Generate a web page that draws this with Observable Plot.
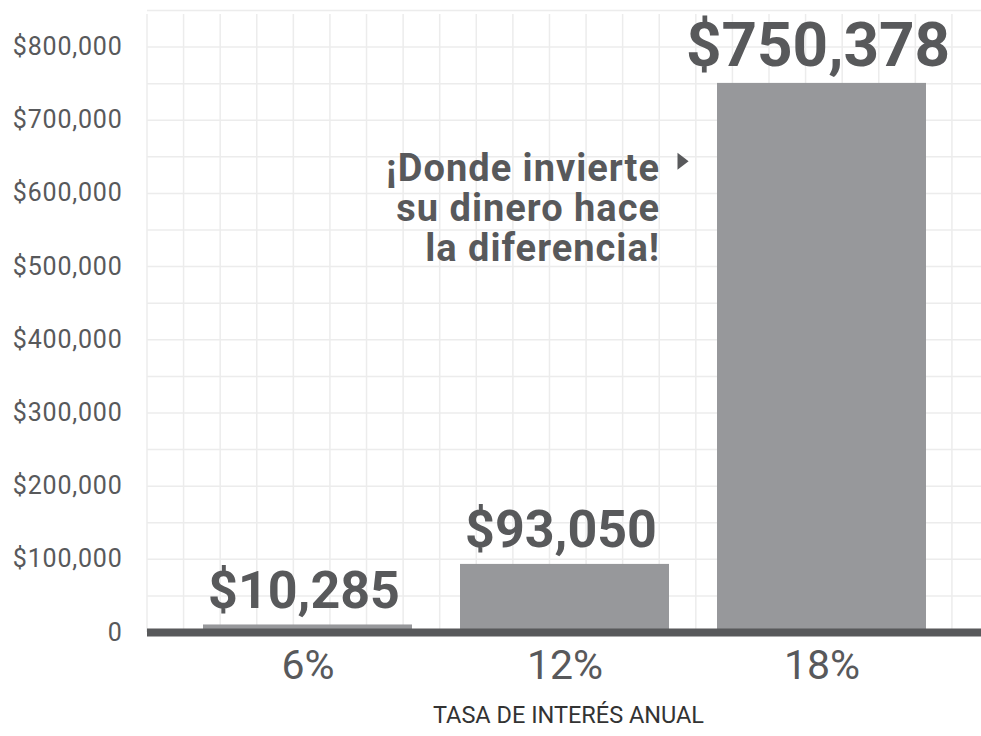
<!DOCTYPE html>
<html>
<head>
<meta charset="utf-8">
<script src="https://cdn.jsdelivr.net/npm/d3@7"></script>
<script src="https://cdn.jsdelivr.net/npm/@observablehq/plot@0.6"></script>
<style>
  html, body { margin: 0; padding: 0; background: #ffffff; }
  #chart svg { display: block; }
  #chart g[aria-description="annotation"] text { letter-spacing: 1px; }
  #chart g[aria-label="y-axis tick label"] text { letter-spacing: 0.8px; }
</style>
</head>
<body>
<div id="chart"></div>
<script>
// ---- data ----
const categories = ["6%", "12%", "18%"];
const values = [10285, 93050, 750378];
const valueLabels = ["$10,285", "$93,050", "$750,378"];
const yTicks = [0, 100000, 200000, 300000, 400000, 500000, 600000, 700000, 800000];
const gridStep = 50000;
const yMax = 850000;
const annotationLines = ["¡Donde invierte", "su dinero hace", "la diferencia!"];
const axisTitle = "TASA DE INTERÉS ANUAL";

const data = categories.map((c, i) => ({rate: c, value: values[i], label: valueLabels[i]}));

// right-pointing triangle symbol
const triRight = {
  draw(context, size) {
    const r = Math.sqrt(size / Math.PI);
    context.moveTo(-0.75 * r, -1.4 * r);
    context.lineTo(1.1 * r, 0);
    context.lineTo(-0.75 * r, 1.4 * r);
    context.closePath();
  }
};

// vertical "graph paper" grid, same pixel step as the y grid
function paperGridX(index, scales, values, dimensions) {
  const {width, marginLeft, marginRight, marginTop} = dimensions;
  const step = scales.y(0) - scales.y(gridStep);
  const g = d3.create("svg:g").attr("stroke", "#ececec").attr("stroke-width", 1.5);
  for (let x = marginLeft; x <= width - marginRight + 0.5; x += step) {
    g.append("line")
      .attr("x1", x).attr("x2", x)
      .attr("y1", marginTop + 4).attr("y2", scales.y(0));
  }
  return g.node();
}

const ink = "#58595b";

const chart = Plot.plot({
  width: 981,
  height: 736,
  marginLeft: 147,
  marginRight: 0,
  marginTop: 10,
  marginBottom: 104,
  style: {fontFamily: "Roboto, 'Noto Sans', sans-serif", background: "#ffffff", color: ink},
  x: {domain: categories, paddingInner: 0.187, paddingOuter: 0.216},
  y: {domain: [0, yMax]},
  marks: [
    Plot.gridY(d3.range(0, yMax + 1, gridStep), {stroke: "#ececec", strokeOpacity: 1, strokeWidth: 1.5}),
    paperGridX,
    Plot.barY(data, {x: "rate", y: "value", fill: "#97989b"}),
    Plot.ruleY([0], {stroke: ink, strokeWidth: 8}),
    Plot.text(data, {
      x: "rate", y: "value", text: "label",
      dy: -17, dx: -4, lineAnchor: "bottom",
      fontSize: d => d.value > 500000 ? 62 : 52,
      fontWeight: "bold", fill: ink
    }),
    Plot.text([{rate: "18%", y: 580000, text: annotationLines.join("\n")}], {
      x: "rate", y: "y", text: "text",
      textAnchor: "end", dx: -162, lineHeight: 1.05,
      fontSize: 38, fontWeight: "bold", fill: ink, ariaDescription: "annotation"
    }),
    Plot.dot([{rate: "18%", y: 644000}], {
      x: "rate", y: "y", dx: -140, symbol: triRight, r: 6, fill: ink, stroke: null
    }),
    Plot.axisY({
      ticks: yTicks,
      tickFormat: d => d === 0 ? "0" : "$" + d3.format(",")(d),
      tickSize: 0, tickPadding: 25, fontSize: 25, label: null, fill: ink
    }),
    Plot.axisX({tickSize: 0, tickPadding: 17, fontSize: 41, label: null, fill: ink}),
    Plot.text([axisTitle], {frameAnchor: "bottom", dy: 90, dx: 4, fontSize: 23.5, fill: "#333333"})
  ]
});

document.getElementById("chart").appendChild(chart);
</script>
</body>
</html>
